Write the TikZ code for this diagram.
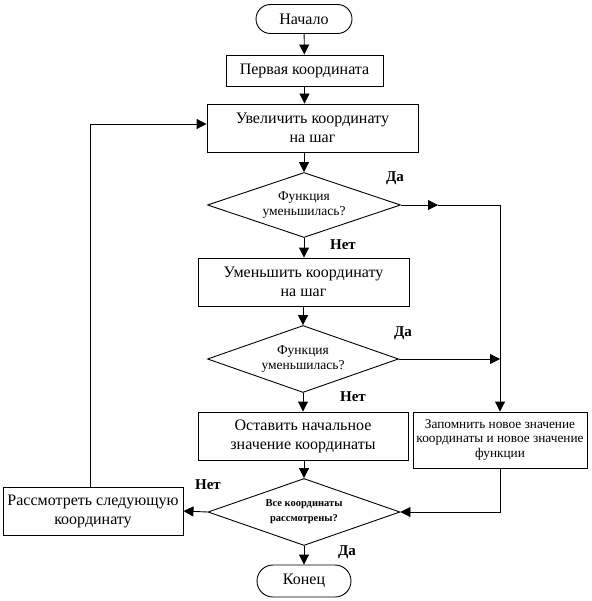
\documentclass[tikz,border=0pt]{standalone}
\usepackage{fontspec}
\setmainfont{Liberation Serif}
\usetikzlibrary{shapes.geometric,shapes.misc,arrows.meta}

\begin{document}
\begin{tikzpicture}[x=1pt,y=-1pt,line width=0.9pt,
	box/.style={draw, rectangle, align=center, inner sep=0pt, font=\fontsize{16}{19}\selectfont},
	term/.style={draw, rounded rectangle, inner sep=0pt, font=\fontsize{16}{19}\selectfont},
	ask/.style={draw, diamond, aspect=3, inner sep=0pt, align=center},
	arr/.style={-{Triangle[length=10pt,width=10pt]}},
	lbl/.style={font=\fontsize{15}{18}\selectfont\bfseries}]
	\useasboundingbox (0,0) rectangle (591,601);
		
		\node[term, minimum width=96pt, minimum height=29pt] (start) at (304,19) {Начало};
		\node[box, minimum width=157pt, minimum height=31pt] (first) at (304.5,70.5) {Первая координата};
		\node[box, minimum width=211pt, minimum height=48pt] (inc) at (312.5,128) {Увеличить координату\\на шаг};
		\node[ask, minimum width=193pt, minimum height=65pt, font=\fontsize{13.5}{15}\selectfont] (less1) at (304,205) {Функция\\уменьшилась?};
		\node[box, minimum width=211pt, minimum height=48pt] (dec) at (303.5,282) {Уменьшить координату\\на шаг};
		\node[ask, minimum width=191pt, minimum height=67pt, font=\fontsize{13.5}{15}\selectfont] (less2) at (303,359) {Функция\\уменьшилась?};
		\node[box, minimum width=210pt, minimum height=48pt] (keep) at (303,436) {Оставить начальное\\значение координаты};
		\node[box, minimum width=174pt, minimum height=56pt, font=\fontsize{13.3}{14.5}\selectfont] (save) at (500,440) {Запомнить новое значение\\координаты и новое значение\\функции};
		\node[ask, minimum width=192pt, minimum height=67pt, font=\fontsize{10.5}{15}\selectfont\bfseries] (all) at (304,512) {Все координаты\\рассмотрены?};
		\node[box, minimum width=180pt, minimum height=48pt] (next) at (93,511) {Рассмотреть следующую\\координату};
		\node[term, minimum width=94pt, minimum height=32pt] (stop) at (304,581) {Конец};
		
		% Да / Нет
		\node[lbl] (yes1) at (395,178) {Да};
		\node[lbl] (no1) at (343,245) {Нет};
		\node[lbl] (yes2) at (403,333) {Да};
		\node[lbl] (no2) at (353,397) {Нет};
		\node[lbl] (no3) at (208,485) {Нет};
		\node[lbl] (yes3) at (347,552) {Да};
		
		\coordinate (mid1) at (438,205);
		\coordinate (j1) at (500,205);
		\coordinate (j2) at (500,359);
		\coordinate (loop) at (90,124);
		
		\draw[arr] (start) -- (first);
		\draw[arr] (first) -- (first |- inc.north);
		\draw[arr] (inc.south -| less1) -- (less1);
		\draw[arr] (less1) -- (dec.north -| less1);
		\draw[arr] (dec.south -| less2) -- (less2);
		\draw[arr] (less2) -- (keep.north -| less2);
		\draw[arr] (keep.south -| all) -- (all);
		\draw[arr] (all) -- (stop);
		\draw[arr] (less1.east) -- (mid1);
		\draw (mid1) -- (j1);
		\draw[arr] (j1) -- (save.north);
		\draw[arr] (less2.east) -- (j2);
		\draw[arr] (save.south) -- (save.south |- all.east) -- (all.east);
		\draw[arr] (all.west) -- (next.east);
		\draw[arr] (next.north -| loop) -- (loop) -- (loop -| inc.west);
	\end{tikzpicture}
\end{document}
